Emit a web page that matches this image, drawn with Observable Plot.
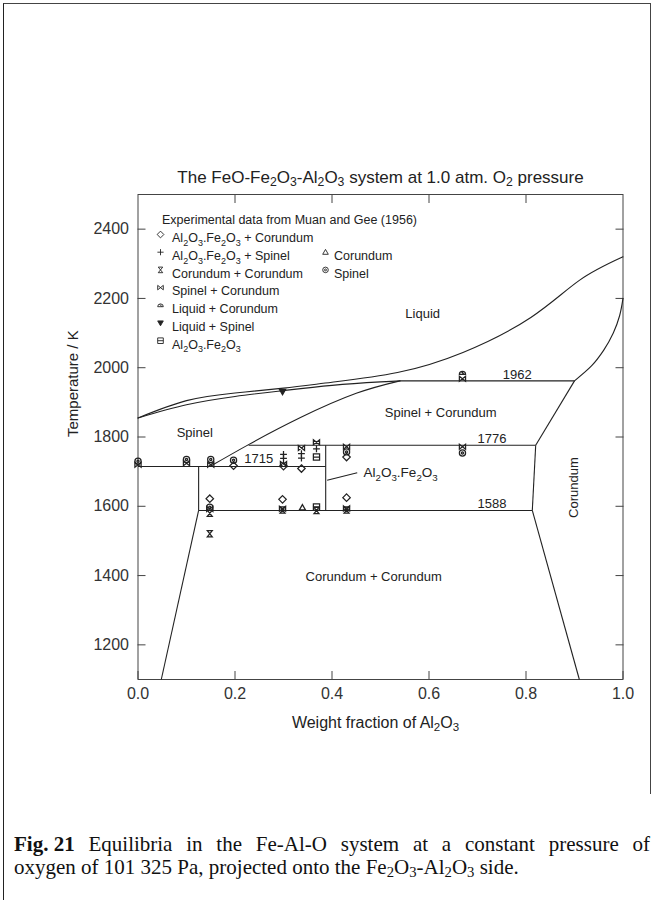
<!DOCTYPE html>
<html><head><meta charset="utf-8">
<script src="https://cdn.jsdelivr.net/npm/d3@7"></script>
<script src="https://cdn.jsdelivr.net/npm/@observablehq/plot@0.6"></script>
<style>
html,body{margin:0;padding:0;background:#fff;}
body{width:654px;height:900px;position:relative;overflow:hidden;font-family:"Liberation Sans",Arial,Helvetica,sans-serif;color:#222}
#border{position:absolute;left:3px;top:3px;width:646px;height:790px;border-left:1.5px solid #222;border-top:1px solid #444;border-right:1px solid #444;z-index:2;pointer-events:none}
#border2{position:absolute;left:3px;top:790px;width:0;height:110px;border-left:1.5px solid #222;z-index:2}
#chart{position:absolute;left:0;top:154px;z-index:1}
.cap{position:absolute;left:14px;font-family:"Liberation Serif","Times New Roman",serif;font-size:21px;line-height:22px;color:#111;white-space:nowrap}
#cap1{top:833px}
#cap1 .fig{word-spacing:0}
#cap2{top:856px}
.cap sub{font-size:70%;vertical-align:-3px;line-height:0}
</style></head><body>
<div id="border"></div><div id="border2"></div>
<div id="chart"></div>
<div class="cap" id="cap1"><b class="fig">Fig. 21</b> Equilibria in the Fe-Al-O system at a constant pressure of</div>
<div class="cap" id="cap2">oxygen of 101 325 Pa, projected onto the Fe<sub>2</sub>O<sub>3</sub>-Al<sub>2</sub>O<sub>3</sub> side.</div>
<script>
// ---------- data ----------
const xTicks = [0, 0.2, 0.4, 0.6, 0.8, 1.0];
const yTicks = [1200, 1400, 1600, 1800, 2000, 2200, 2400];

// phase boundary curves (weight fraction Al2O3, temperature K)
const liquidusX = [0, 0.1, 0.2, 0.3, 0.4, 0.535, 0.67, 0.81, 0.91, 1.0];
const liquidusT = [1855, 1905, 1927, 1941, 1958, 1986, 2044, 2145, 2252, 2320];
const solidusX = [0, 0.1, 0.2, 0.3, 0.4, 0.5, 0.54];
const solidusT = [1855, 1893, 1917, 1934, 1949, 1959, 1962];
const spinelBoundX = [0.15, 0.228, 0.335, 0.45, 0.54];
const spinelBoundT = [1716, 1778, 1856, 1926, 1962];
const corundumLiqX = [0.9, 0.935, 0.96, 0.98, 0.993, 1.0];
const corundumLiqT = [1962, 2005, 2050, 2100, 2150, 2200];

// straight segments [x1, T1, x2, T2]
const segX1 = [0.54, 0.9, 0.228, 0.82, 0.813, 0.125, 0.125, 0, 0.125, 0.387, 0.39];
const segT1 = [1962, 1962, 1776, 1776, 1588, 1588, 1588, 1715, 1715, 1776, 1675];
const segX2 = [0.9, 0.82, 0.82, 0.813, 0.91, 0.813, 0.048, 0.387, 0.125, 0.387, 0.452];
const segT2 = [1962, 1776, 1776, 1588, 1100, 1588, 1100, 1715, 1588, 1588, 1697];

// experimental points (Muan and Gee 1956)
// kinds: A Al2O3.Fe2O3+Corundum, B Al2O3.Fe2O3+Spinel, C Corundum+Corundum, D Spinel+Corundum,
// E Liquid+Corundum, F Liquid+Spinel, G Al2O3.Fe2O3, H Corundum, I Spinel
const ptX = [0.669, 0.669, 0.298,
  0.0, 0.0, 0.1, 0.1, 0.15, 0.15, 0.197, 0.197,
  0.3, 0.3, 0.3, 0.3,
  0.337, 0.337, 0.337, 0.337,
  0.368, 0.368, 0.368,
  0.43, 0.43, 0.43,
  0.669, 0.669,
  0.148, 0.148, 0.148, 0.148, 0.148,
  0.298, 0.298, 0.298,
  0.339,
  0.368, 0.368,
  0.43, 0.43, 0.43];
const ptT = [1985, 1968, 1931,
  1730, 1720, 1735, 1724, 1735, 1720, 1733, 1717,
  1750, 1738, 1722, 1716,
  1768, 1752, 1739, 1709,
  1785, 1766, 1742,
  1772, 1757, 1742,
  1772, 1754,
  1622, 1597, 1592, 1580, 1521,
  1620, 1593, 1589,
  1596,
  1598, 1588,
  1625, 1594, 1589];
const ptKind = ["E", "D", "F",
  "I", "D", "I", "D", "I", "D", "I", "A",
  "B", "B", "D", "A",
  "D", "B", "B", "A",
  "D", "B", "G",
  "D", "I", "A",
  "D", "I",
  "A", "I", "D", "C", "C",
  "A", "D", "C",
  "H",
  "G", "C",
  "A", "D", "C"];

// legend
const legendTitle = "Experimental data from Muan and Gee (1956)";
const legendKind = ["A", "B", "C", "D", "E", "F", "G", "H", "I"];
const legendText = ["Al_2O_3.Fe_2O_3 + Corundum", "Al_2O_3.Fe_2O_3 + Spinel", "Corundum + Corundum",
  "Spinel + Corundum", "Liquid + Corundum", "Liquid + Spinel", "Al_2O_3.Fe_2O_3", "Corundum", "Spinel"];
const legendCol = [0, 0, 0, 0, 0, 0, 0, 1, 1];
const legendRow = [0, 1, 2, 3, 4, 5, 6, 1, 2];

// region / isotherm labels
const labelText = ["Liquid", "Spinel + Corundum", "Spinel", "Corundum + Corundum", "1962", "1776", "1715", "1588"];
const labelX = [0.587, 0.624, 0.117, 0.486, 0.782, 0.73, 0.249, 0.73];
const labelT = [2156, 1871, 1813, 1397, 1980, 1796, 1738, 1608];
const compoundLabel = "Al_2O_3.Fe_2O_3";
const compoundX = [0.465], compoundT = [1697];
const corundumLabel = "Corundum";
const corundumX = [0.898], corundumT = [1654];

const titleText = "The FeO-Fe_2O_3-Al_2O_3 system at 1.0 atm. O_2 pressure";
const xLabel = "Weight fraction of Al_2O_3";
const yLabel = "Temperature / K";

// ---------- tables ----------
const curveRows = [];
const addCurve = (xs, ts, id) => xs.forEach((x, i) => curveRows.push({x, T: ts[i], id}));
addCurve(liquidusX, liquidusT, "liquidus");
addCurve(solidusX, solidusT, "solidus");
addCurve(spinelBoundX, spinelBoundT, "spinel");
const corRows = corundumLiqX.map((x, i) => ({x, T: corundumLiqT[i]}));
const segRows = segX1.map((x1, i) => ({x1, T1: segT1[i], x2: segX2[i], T2: segT2[i]}));
const points = ptX.map((x, i) => ({x, T: ptT[i], kind: ptKind[i]}));
const labels = labelText.map((t, i) => ({t, x: labelX[i], T: labelT[i]}));

// ---------- symbols ----------
const S = f => ({draw(c, size) { const r = Math.sqrt(size / Math.PI); f(c, r); }});
const symbols = {
  A: S((c, r) => { r *= 1.2; c.moveTo(0, -r); c.lineTo(r, 0); c.lineTo(0, r); c.lineTo(-r, 0); c.closePath(); }),
  B: S((c, r) => { r *= 1.1; c.moveTo(-r, 0); c.lineTo(r, 0); c.moveTo(0, -r); c.lineTo(0, r); }),
  C: S((c, r) => { c.moveTo(-r * 0.8, -r); c.lineTo(r * 0.8, -r); c.lineTo(-r * 0.8, r); c.lineTo(r * 0.8, r); c.closePath(); }),
  D: S((c, r) => { c.moveTo(-r, -r * 0.8); c.lineTo(r, r * 0.8); c.lineTo(r, -r * 0.8); c.lineTo(-r, r * 0.8); c.closePath(); }),
  E: S((c, r) => { c.moveTo(r, r * 0.5); c.arc(0, r * 0.5, r, 0, -Math.PI, true); c.closePath(); c.moveTo(-r * 0.3, -r * 0.4); c.lineTo(r * 0.5, r * 0.5); }),
  F: S((c, r) => { c.moveTo(-r, -r * 0.75); c.lineTo(r, -r * 0.75); c.lineTo(0, r); c.closePath(); }),
  G: S((c, r) => { c.rect(-r, -r, 2 * r, 2 * r); c.moveTo(-r, 0); c.lineTo(r, 0); }),
  H: S((c, r) => { c.moveTo(0, -r); c.lineTo(r, r * 0.75); c.lineTo(-r, r * 0.75); c.closePath(); }),
  I: S((c, r) => { c.moveTo(r, 0); c.arc(0, 0, r, 0, 2 * Math.PI); c.moveTo(r * 0.35, 0); c.arc(0, 0, r * 0.35, 0, 2 * Math.PI); })
};
const kinds = Object.keys(symbols);
const filledKinds = new Set(["F"]);

// ---------- marks ----------
const ink = "#222";
const tickLen = 8;
const dotR = 3.1, dotSW = 1.25;
const marks = [
  Plot.frame({stroke: "#444", strokeWidth: 1}),
  Plot.axisX({anchor: "bottom", ticks: xTicks, tickSize: -tickLen, tickFormat: () => "", stroke: "#444"}),
  Plot.axisX({anchor: "top", ticks: xTicks.slice(1, -1), tickSize: -tickLen, tickFormat: () => "", stroke: "#444"}),
  Plot.axisY({anchor: "left", ticks: yTicks, tickSize: -tickLen, tickFormat: () => "", stroke: "#444"}),
  Plot.axisY({anchor: "right", ticks: yTicks, tickSize: -tickLen, tickFormat: () => "", stroke: "#444"}),
  Plot.axisX({anchor: "bottom", ticks: xTicks, tickSize: 0, tickPadding: 8, tickFormat: d3.format(".1f"), fontSize: 16, fill: "#333"}),
  Plot.axisY({anchor: "left", ticks: yTicks, tickSize: 0, tickPadding: 9, tickFormat: d => String(d), fontSize: 16, fill: "#333"}),
  Plot.line(curveRows, {x: "x", y: "T", z: "id", curve: "natural", stroke: ink, strokeWidth: 1.1}),
  Plot.line(corRows, {x: "x", y: "T", curve: "monotone-y", stroke: ink, strokeWidth: 1.1}),
  Plot.link(segRows, {x1: "x1", y1: "T1", x2: "x2", y2: "T2", stroke: ink, strokeWidth: 1.1}),
  Plot.dot(points.filter(d => !filledKinds.has(d.kind)), {x: "x", y: "T", symbol: "kind", r: dotR, stroke: ink, fill: "none", strokeWidth: dotSW}),
  Plot.dot(points.filter(d => filledKinds.has(d.kind)), {x: "x", y: "T", symbol: "kind", r: dotR, stroke: ink, fill: ink, strokeWidth: dotSW}),
  Plot.text(labels, {x: "x", y: "T", text: "t", fontSize: 13, fill: ink}),
  Plot.text([compoundLabel], {x: compoundX, y: compoundT, text: d => d, textAnchor: "start", fontSize: 13.5, fill: ink}),
  Plot.text([corundumLabel], {x: corundumX, y: corundumT, text: d => d, rotate: -90, fontSize: 13, fill: ink}),
  Plot.text([titleText], {frameAnchor: "top", dy: -24, text: d => d, fontSize: 17, fill: ink, style: "letter-spacing:0.8px"}),
  Plot.text([xLabel], {frameAnchor: "bottom", dx: -5, dy: 48, text: d => d, fontSize: 16, fill: ink}),
  Plot.text([yLabel], {frameAnchor: "left", dx: -65, rotate: -90, text: d => d, fontSize: 15, fill: ink}),
  Plot.text([legendTitle], {frameAnchor: "top-left", dx: 24, dy: 21, text: d => d, textAnchor: "start", fontSize: 12.5, fill: ink})
];
const symDx = [22.5, 187.5], txtDx = [34, 196];
legendKind.forEach((k, i) => {
  const c = legendCol[i], dy = 39 + 17.7 * legendRow[i];
  marks.push(Plot.dot([k], {frameAnchor: "top-left", dx: symDx[c], dy: dy + 1, symbol: d => d, r: 2.8, stroke: ink, strokeWidth: 0.9, fill: filledKinds.has(k) ? ink : "none"}));
  marks.push(Plot.text([legendText[i]], {frameAnchor: "top-left", dx: txtDx[c], dy, text: d => d, textAnchor: "start", fontSize: 12.5, fill: ink}));
});

const chart = Plot.plot({
  width: 654, height: 595,
  marginLeft: 137.5, marginRight: 31.5, marginTop: 40, marginBottom: 70,
  style: {fontFamily: "'Liberation Sans', Arial, Helvetica, sans-serif", background: "transparent", color: ink, overflow: "visible"},
  x: {domain: [0, 1], label: null},
  y: {domain: [1100, 2500], label: null},
  symbol: {domain: kinds, range: kinds.map(k => symbols[k])},
  marks
});

// subscripts: "_2" -> subscript tspan
chart.querySelectorAll("text").forEach(el => {
  if (el.querySelector("tspan")) return;
  const s = el.textContent;
  if (!s.includes("_")) return;
  el.textContent = "";
  const parts = s.split(/_(\d)/);
  let prevSub = false;
  parts.forEach((p, i) => {
    if (!p) return;
    const t = document.createElementNS("http://www.w3.org/2000/svg", "tspan");
    t.textContent = p;
    const sub = i % 2 === 1;
    if (sub) { t.setAttribute("font-size", "72%"); if (!prevSub) t.setAttribute("dy", "3.5"); }
    else if (prevSub) t.setAttribute("dy", "-3.5");
    prevSub = sub;
    el.appendChild(t);
  });
});
document.getElementById("chart").appendChild(chart);

// stretch first caption line to full width (justified, as in the printed figure)
const cap1 = document.getElementById("cap1");
const natural = cap1.getBoundingClientRect().width;
const gaps = 10;
cap1.style.wordSpacing = Math.max(0, (636 - natural) / gaps) + "px";
cap1.querySelector(".fig").style.wordSpacing = "0px";
</script>
</body></html>
